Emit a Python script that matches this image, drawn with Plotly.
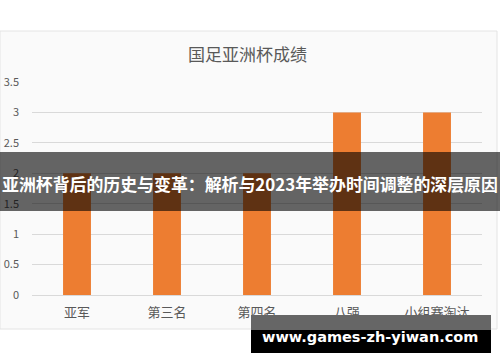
import plotly.graph_objects as go

categories = ["亚军", "第三名", "第四名", "八强", "小组赛淘汰"]
values = [2, 2, 2, 3, 3]
y_ticks = [0, 0.5, 1, 1.5, 2, 2.5, 3, 3.5]
y_tick_labels = ["0", "0.5", "1", "1.5", "2", "2.5", "3", "3.5"]
chart_title = "国足亚洲杯成绩"
banner_text = "亚洲杯背后的历史与变革：解析与2023年举办时间调整的深层原因"
watermark = "www.games-zh-yiwan.com"

W, H = 500, 362
L, R, T, B = 32, 18, 82, 67
pw = W - L - R
ph = H - T - B

def px(x):
    return (x - L) / pw

def py(y):
    return (H - B - y) / ph

FONT = "Noto Sans CJK SC, Noto Sans, sans-serif"

fig = go.Figure(go.Bar(x=categories, y=values, marker_color="#ED7D31",
                       marker_line_width=0, width=0.31))

shapes = [
    # chart panel
    dict(type="rect", xref="paper", yref="paper", x0=px(0), x1=px(497), y0=py(329), y1=py(31),
         fillcolor="#fafafa", line=dict(color="#e4e4e4", width=1), layer="below"),
    # banner
    dict(type="rect", xref="paper", yref="paper", x0=px(0), x1=px(500), y0=py(211), y1=py(152),
         fillcolor="rgba(0,0,0,0.6)", line=dict(width=0), layer="above"),
    # watermark box
    dict(type="rect", xref="paper", yref="paper", x0=px(251), x1=px(491), y0=py(330), y1=py(315),
         fillcolor="#666666", line=dict(width=0), layer="above"),
    dict(type="rect", xref="paper", yref="paper", x0=px(251), x1=px(491), y0=py(353), y1=py(330),
         fillcolor="#000000", line=dict(width=0), layer="above"),
]

annotations = [
    dict(text=chart_title, xref="paper", yref="paper", x=px(247), y=py(53), showarrow=False,
         font=dict(family=FONT, size=17, color="#595959"), xanchor="center", yanchor="middle"),
    dict(text="<b>" + banner_text + "</b>", xref="paper", yref="paper", x=px(249.5), y=py(183),
         showarrow=False, font=dict(family=FONT, size=16.9, color="white"),
         xanchor="center", yanchor="middle"),
    dict(text="<b>" + watermark + "</b>", xref="paper", yref="paper", x=px(370), y=py(337),
         showarrow=False, font=dict(family="DejaVu Sans, sans-serif", size=14.5, color="white"),
         xanchor="center", yanchor="middle"),
]

fig.update_layout(
    width=W, height=H, margin=dict(l=L, r=R, t=T, b=B, autoexpand=False),
    paper_bgcolor="white", plot_bgcolor="rgba(0,0,0,0)",
    showlegend=False, shapes=shapes, annotations=annotations,
    xaxis=dict(showgrid=False, showline=True, linecolor="#d9d9d9", linewidth=1,
               ticks="", automargin=False, ticklabelstandoff=5,
               tickfont=dict(family=FONT, size=13, color="#595959")),
    yaxis=dict(range=[0, 3.5], tickvals=y_ticks, ticktext=y_tick_labels,
               showgrid=True, gridcolor="#d9d9d9", gridwidth=1, zeroline=False,
               showline=False, ticks="", ticklabelstandoff=12, automargin=False,
               tickfont=dict(family=FONT, size=11, color="#595959")),
)

fig.write_html("out.html", config={"displayModeBar": False},
               post_script="document.body.style.margin='0px';document.body.style.overflow='hidden';")
